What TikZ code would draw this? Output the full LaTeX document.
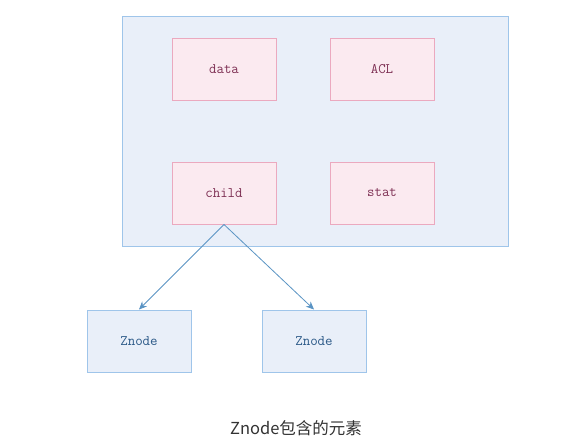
\documentclass[tikz,border=0pt]{standalone}
\usepackage{fontspec}
\newfontfamily\cjk{Noto Sans CJK SC}
\usetikzlibrary{arrows.meta}
\definecolor{outerfill}{HTML}{E9EFF9}
\definecolor{outerdraw}{HTML}{9FC5EA}
\definecolor{pinkfill}{HTML}{FBEAF0}
\definecolor{pinkdraw}{HTML}{EBA9BF}
\definecolor{pinktext}{HTML}{7E3054}
\definecolor{bluetext}{HTML}{2A5887}
\definecolor{arrowcol}{HTML}{5A94C4}
\definecolor{captext}{HTML}{333333}
\tikzset{
  outerbox/.style={draw=outerdraw, fill=outerfill, line width=1pt, minimum width=386pt, minimum height=230pt, inner sep=0pt},
  elembox/.style={draw=pinkdraw, fill=pinkfill, line width=1pt, minimum width=104pt, minimum height=62pt, inner sep=0pt, font=\ttfamily\fontsize{14.5}{16}\selectfont, text=pinktext},
  znodebox/.style={draw=outerdraw, fill=outerfill, line width=1pt, minimum width=104pt, minimum height=62pt, inner sep=0pt, font=\ttfamily\fontsize{14.5}{16}\selectfont, text=bluetext},
  conn/.style={draw=arrowcol, line width=0.8pt, -{Stealth[length=8pt,width=7pt]}},
  caption/.style={font=\cjk\fontsize{16.5}{19}\selectfont, text=captext, inner sep=0pt}
}
\begin{document}
\begin{tikzpicture}[x=1pt,y=-1pt]
\useasboundingbox[fill=white] (0,0) rectangle (562,440);
\node[outerbox] (outer) at (315,131) {};
\node[elembox] (data) at (224,69) {data};
\node[elembox] (acl) at (382,69) {ACL};
\node[elembox] (child) at (224,193) {child};
\node[elembox] (stat) at (382,193) {stat};
\node[znodebox] (z1) at (139,341) {Znode};
\node[znodebox] (z2) at (314,341) {Znode};
\draw[conn] (child.south) -- (z1.north);
\draw[conn] (child.south) -- (z2.north);
\node[caption] (cap) at (296,428) {Znode包含的元素};
\end{tikzpicture}
\end{document}
